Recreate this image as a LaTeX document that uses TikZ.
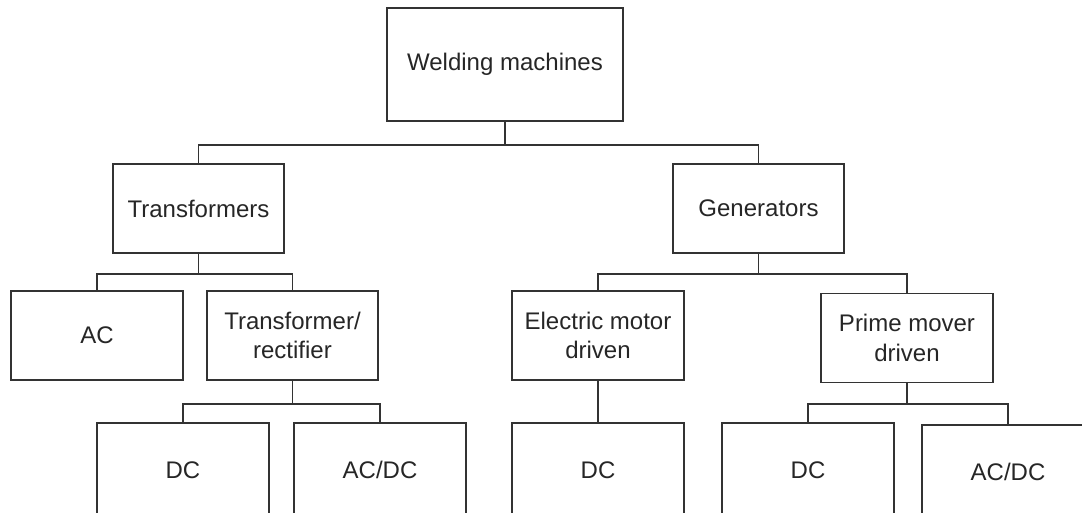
\documentclass[tikz,border=0pt]{standalone}
\usepackage{fontspec}
\setmainfont{Liberation Sans}
\begin{document}
\begin{tikzpicture}[x=0.75pt,y=-0.75pt,
    box/.style={draw=black!80, line width=1.4pt, text=black!85, align=center,
        font=\fontsize{18}{22}\selectfont, inner sep=0pt,
        minimum width=128.5pt, minimum height=66.75pt},
    leaf/.style={box, minimum height=70.5pt},
    link/.style={draw=black!80, line width=1.4pt}]
    \clip (0,0) rectangle (1082,513);
    % boxes
    \node[box, minimum width=177pt, minimum height=84.75pt] (wm) at (505,64.5) {Welding machines};
    \node[box] (tf) at (198.5,208.5) {Transformers};
    \node[box] (gen) at (758.5,208.5) {Generators};
    \node[box] (ac) at (97,335.5) {AC};
    \node[box] (tr) at (292.5,335.5) {Transformer/\\rectifier};
    \node[box] (em) at (598,335.5) {Electric motor\\driven};
    \node[box] (pm) at (907,338) {Prime mover\\driven};
    \node[leaf] (dca) at (183,470) {DC};
    \node[leaf] (acdca) at (380,470) {AC/DC};
    \node[leaf] (dcb) at (598,470) {DC};
    \node[leaf] (dcc) at (808,470) {DC};
    \node[leaf] (acdcb) at (1008,472) {AC/DC};
    % connectors
    \coordinate (b1) at (505,145);
    \coordinate (b2) at (198.5,274);
    \coordinate (b3) at (758.5,274);
    \coordinate (b4) at (292.5,404);
    \coordinate (b5) at (907,404);
    \draw[link] (wm) -- (b1);
    \draw[link] (b1) -| (tf);
    \draw[link] (b1) -| (gen);
    \draw[link] (tf) -- (b2);
    \draw[link] (b2) -| (ac);
    \draw[link] (b2) -| (tr);
    \draw[link] (gen) -- (b3);
    \draw[link] (b3) -| (em);
    \draw[link] (b3) -| (pm);
    \draw[link] (tr) -- (b4);
    \draw[link] (b4) -| (dca);
    \draw[link] (b4) -| (acdca);
    \draw[link] (em) -- (dcb);
    \draw[link] (pm) -- (b5);
    \draw[link] (b5) -| (dcc);
    \draw[link] (b5) -| (acdcb);
\end{tikzpicture}
\end{document}
